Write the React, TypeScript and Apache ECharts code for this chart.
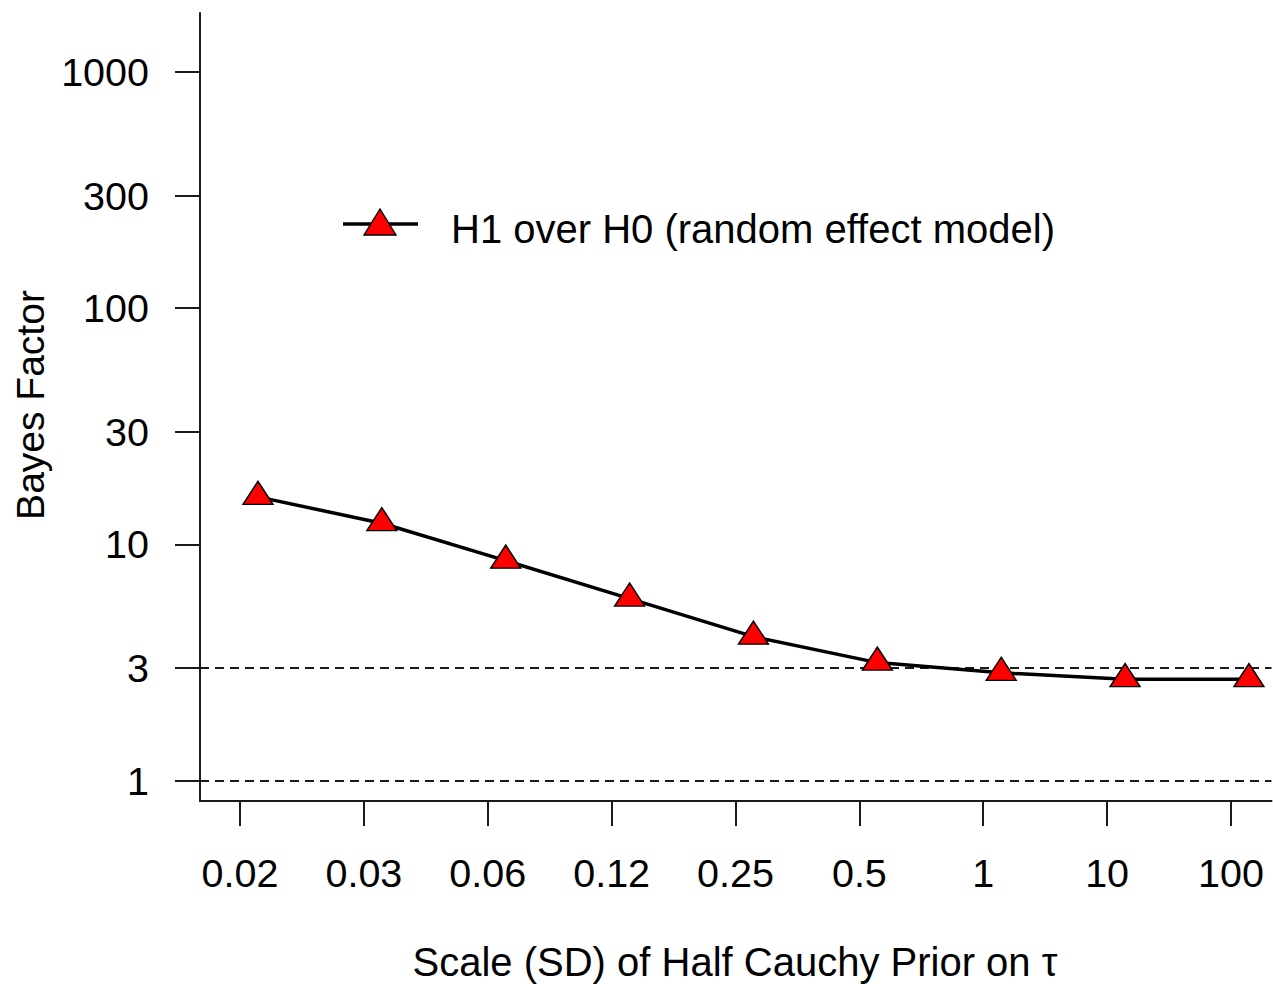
import { useEffect, useRef } from "react";
import * as echarts from "echarts";

const scaleLabels = ["0.02", "0.03", "0.06", "0.12", "0.25", "0.5", "1", "10", "100"];
const tickPositions = [1, 2, 3, 4, 5, 6, 7, 8, 9];
const pointOffset = 0.145;
const bayesFactor = [15.9, 12.3, 8.54, 5.9, 4.07, 3.16, 2.86, 2.69, 2.69];
const yTicks = [1, 3, 10, 30, 100, 300, 1000];
const refLines = [1, 3];
const seriesName = "H1 over H0 (random effect model)";

const FONT = "'Liberation Sans', Arial, Helvetica, sans-serif";
const AXIS_COLOR = "#1a1a1a";

export default function App() {
  const ref = useRef<HTMLDivElement>(null);

  useEffect(() => {
    document.body.style.margin = "0";
    const chart = echarts.init(ref.current!, null, { renderer: "svg" });
    const data = tickPositions.map((p, i) => [p + pointOffset, bayesFactor[i]]);

    chart.setOption({
      animation: false,
      backgroundColor: "#fff",
      textStyle: { fontFamily: FONT },
      grid: { left: 200, top: 13, right: 1.5, bottom: 183, containLabel: false },
      xAxis: {
        type: "value",
        min: 0.677,
        max: 9.327,
        axisLine: { show: true, lineStyle: { color: AXIS_COLOR, width: 2 } },
        axisTick: {
          show: true,
          inside: false,
          length: 25,
          customValues: tickPositions,
          lineStyle: { color: AXIS_COLOR, width: 2 },
        },
        axisLabel: {
          show: true,
          customValues: tickPositions,
          formatter: (v: number) => scaleLabels[Math.round(v) - 1] ?? "",
          margin: 52,
          fontSize: 39.5,
          color: "#000",
          fontFamily: FONT,
        },
        splitLine: { show: false },
      },
      yAxis: {
        type: "log",
        logBase: 10,
        min: 0.82,
        max: 1778,
        axisLine: { show: true, lineStyle: { color: AXIS_COLOR, width: 2 } },
        axisTick: {
          show: true,
          inside: false,
          length: 25,
          customValues: yTicks,
          lineStyle: { color: AXIS_COLOR, width: 2 },
        },
        axisLabel: {
          show: true,
          customValues: yTicks,
          formatter: (v: number) => String(v),
          margin: 51,
          fontSize: 39.5,
          color: "#000",
          fontFamily: FONT,
          padding: [6, 0, 0, 0],
        },
        splitLine: { show: false },
      },
      series: [
        {
          name: seriesName,
          type: "line",
          data,
          symbol: "triangle",
          symbolSize: [30, 23],
          symbolOffset: [0, -4],
          lineStyle: { color: "#000", width: 3.5 },
          itemStyle: { color: "#ff0000", borderColor: "#000", borderWidth: 1.4 },
          z: 3,
          markLine: {
            silent: true,
            symbol: "none",
            label: { show: false },
            lineStyle: { color: AXIS_COLOR, width: 2, type: [9, 6] },
            data: refLines.map((v) => ({ yAxis: v })),
            z: 1,
          },
        },
      ],
      graphic: [
        {
          type: "line",
          shape: { x1: 343, y1: 224, x2: 418, y2: 224 },
          style: { stroke: "#000", lineWidth: 3.5 },
        },
        {
          type: "polygon",
          shape: { points: [[380, 209], [364, 235], [396, 235]] },
          style: { fill: "#ff0000", stroke: "#000", lineWidth: 1.4 },
        },
        {
          type: "text",
          x: 451,
          y: 229,
          style: {
            text: seriesName,
            font: `40px ${FONT}`,
            fill: "#000",
            align: "left",
            verticalAlign: "middle",
          },
        },
        {
          type: "text",
          x: 735,
          y: 962,
          style: {
            text: "Scale (SD) of Half Cauchy Prior on τ",
            font: `40px ${FONT}`,
            fill: "#000",
            align: "center",
            verticalAlign: "middle",
          },
        },
        {
          type: "text",
          x: 30,
          y: 405,
          rotation: Math.PI / 2,
          style: {
            text: "Bayes Factor",
            font: `39px ${FONT}`,
            fill: "#000",
            align: "center",
            verticalAlign: "middle",
          },
        },
      ],
    });

    return () => chart.dispose();
  }, []);

  return (
    <div
      ref={ref}
      style={{ position: "absolute", left: 0, top: 0, width: 1273, height: 984 }}
    />
  );
}
